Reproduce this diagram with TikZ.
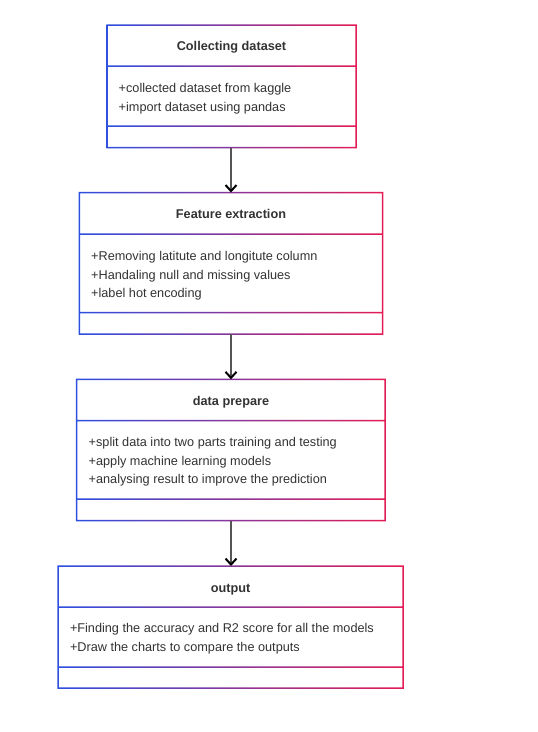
\documentclass[tikz,border=0pt]{standalone}
\usepackage{fontspec}
\setmainfont{Liberation Sans}
\usetikzlibrary{arrows.meta}
\definecolor{cblue}{RGB}{45,80,225}
\definecolor{cred}{RGB}{228,28,85}
\definecolor{ctext}{RGB}{51,51,51}
\definecolor{cline}{RGB}{85,85,85}
\tikzset{
  titletext/.style={font=\fontsize{12.7pt}{15pt}\selectfont\bfseries, text=ctext, inner sep=0, anchor=base},
  bodytext/.style={font=\fontsize{12.7pt}{15pt}\selectfont, text=ctext, inner sep=0, anchor=base west},
  flowarrow/.style={draw=cline, line width=1.1pt, -{Straight Barb[length=6pt,width=11pt,line width=2pt,color=black]}},
}
% #1 name, #2 x1, #3 y1, #4 x2, #5 y2, #6 divider 1, #7 divider 2
\newcommand\gradbox[7]{%
  \node[inner sep=0, minimum width={#4pt-#2pt}, minimum height={#5pt-#3pt}, anchor=north west] (#1) at (#2,#3) {};
  \shade[left color=cblue, right color=cred, even odd rule]
    (#2-0.75,#3-0.75) rectangle (#4+0.75,#5+0.75)
    (#2+0.75,#3+0.75) rectangle (#4-0.75,#6-0.75)
    (#2+0.75,#6+0.75) rectangle (#4-0.75,#7-0.75)
    (#2+0.75,#7+0.75) rectangle (#4-0.75,#5-0.75);
}
\begin{document}
\begin{tikzpicture}[x=1pt,y=-1pt]
\useasboundingbox[fill=white] (0,0) rectangle (538,732);

% Box 1
\gradbox{b1}{107}{25}{356}{147.5}{66}{126}
\node[titletext] (b1t) at (231.5,50.5) {Collecting dataset};
\node[bodytext] (b1l1) at (118.5,92.2) {+collected dataset from kaggle};
\node[bodytext] (b1l2) at (118.5,111.2) {+import dataset using pandas};

% Box 2
\gradbox{b2}{79.3}{192.5}{382.7}{334}{234}{312.7}
\node[titletext] (b2t) at (231,218.8) {Feature extraction};
\node[bodytext] (b2l1) at (91,260.2) {+Removing latitute and longitute column};
\node[bodytext] (b2l2) at (91,279.2) {+Handaling null and missing values};
\node[bodytext] (b2l3) at (91,297.8) {+label hot encoding};

% Box 3
\gradbox{b3}{76.7}{379.3}{385}{520.7}{420.7}{499}
\node[titletext] (b3t) at (231,405.2) {data prepare};
\node[bodytext] (b3l1) at (88.5,446.2) {+split data into two parts training and testing};
\node[bodytext] (b3l2) at (88.5,465.2) {+apply machine learning models};
\node[bodytext] (b3l3) at (88.5,483.5) {+analysing result to improve the prediction};

% Box 4
\gradbox{b4}{58}{566}{403}{688}{607}{667}
\node[titletext] (b4t) at (230.5,592.2) {output};
\node[bodytext] (b4l1) at (69.8,632.8) {+Finding the accuracy and R2 score for all the models};
\node[bodytext] (b4l2) at (69.8,651.8) {+Draw the charts to compare the outputs};

% Arrows
\draw[flowarrow] (231,147.5) coordinate (a1s) -- (a1s |- b2.north);
\draw[flowarrow] (231,334) coordinate (a2s) -- (a2s |- b3.north);
\draw[flowarrow] (231,520.7) coordinate (a3s) -- (a3s |- b4.north);
\end{tikzpicture}
\end{document}
